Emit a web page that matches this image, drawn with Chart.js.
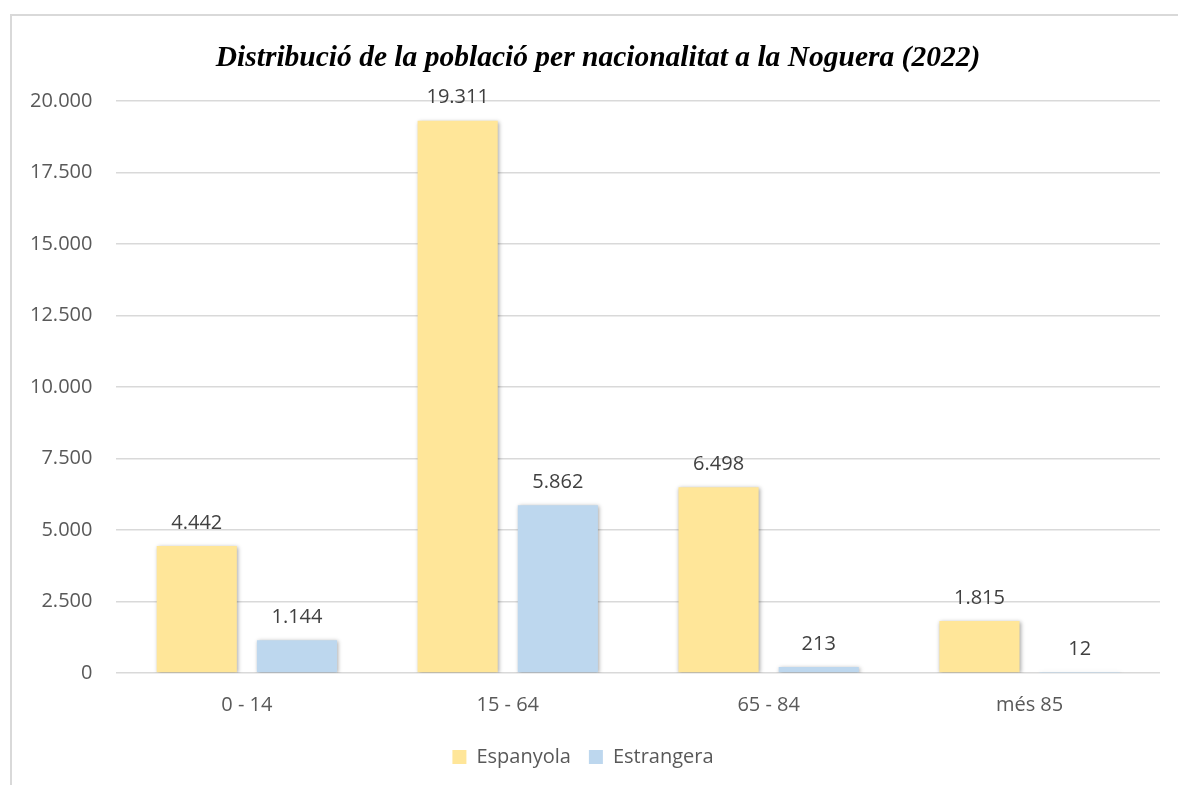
<!DOCTYPE html>
<html>
<head>
<meta charset="utf-8">
<script src="https://cdn.jsdelivr.net/npm/chart.js@4"></script>
<style>
  html, body { margin: 0; padding: 0; background: #fff; }
  #wrap { position: relative; width: 1178px; height: 785px; }
</style>
</head>
<body>
<div id="wrap"><canvas id="chart" width="1178" height="785"></canvas></div>
<script>
const categories = ['0 - 14', '15 - 64', '65 - 84', 'més 85'];
const espanyola = [4442, 19311, 6498, 1815];
const estrangera = [1144, 5862, 213, 12];
const seriesNames = ['Espanyola', 'Estrangera'];
const titleText = 'Distribució de la població per nacionalitat a la Noguera (2022)';

function fmt(v) {
    return String(v).replace(/\B(?=(\d{3})+(?!\d))/g, '.');
}

// outer frame like the spreadsheet chart border, plus the title (centred a bit right of the canvas middle)
const framePlugin = {
    id: 'frame',
    beforeDraw(chart) {
        const ctx = chart.ctx;
        ctx.save();
        ctx.strokeStyle = '#d9d9d9';
        ctx.lineWidth = 2;
        ctx.beginPath();
        ctx.moveTo(11, 785);
        ctx.lineTo(11, 15);
        ctx.lineTo(1178, 15);
        ctx.stroke();
        ctx.restore();
    },
    afterDraw(chart) {
        const ctx = chart.ctx;
        ctx.save();
        ctx.font = 'italic bold 29.5px "Liberation Serif", serif';
        ctx.fillStyle = '#000';
        ctx.textAlign = 'center';
        ctx.textBaseline = 'middle';
        ctx.fillText(titleText, 598, 58);
        ctx.restore();
    }
};

// soft shadow behind the bars
const shadowPlugin = {
    id: 'barShadow',
    beforeDatasetDraw(chart) {
        const ctx = chart.ctx;
        ctx.save();
        ctx.shadowColor = 'rgba(0,0,0,0.35)';
        ctx.shadowBlur = 4;
        ctx.shadowOffsetX = 1;
        ctx.shadowOffsetY = 1;
    },
    afterDatasetDraw(chart) {
        chart.ctx.restore();
    }
};

// value labels above each bar
const labelPlugin = {
    id: 'valueLabels',
    afterDatasetsDraw(chart) {
        const ctx = chart.ctx;
        ctx.save();
        ctx.font = '20px "Open Sans", sans-serif';
        ctx.fillStyle = '#404040';
        ctx.textAlign = 'center';
        ctx.textBaseline = 'bottom';
        chart.data.datasets.forEach((ds, i) => {
            chart.getDatasetMeta(i).data.forEach((bar, j) => {
                ctx.fillText(fmt(ds.data[j]), bar.x, bar.y - 13);
            });
        });
        ctx.restore();
    }
};

new Chart(document.getElementById('chart'), {
    type: 'bar',
    data: {
        labels: categories,
        datasets: [
            {label: seriesNames[0], data: espanyola, backgroundColor: '#FFE699'},
            {label: seriesNames[1], data: estrangera, backgroundColor: '#BDD7EE'}
        ]
    },
    options: {
        responsive: false,
        animation: false,
        categoryPercentage: 0.768,
        barPercentage: 0.8,
        layout: {padding: {left: 6, right: 18, top: 101, bottom: 8}},
        scales: {
            x: {
                grid: {display: false},
                border: {display: false},
                ticks: {color: '#595959', font: {family: '"Open Sans", sans-serif', size: 20}, padding: 12}
            },
            y: {
                min: 0,
                max: 20000,
                grid: {color: '#d9d9d9', lineWidth: 1.5, drawTicks: false},
                border: {display: false},
                ticks: {
                    stepSize: 2500,
                    color: '#595959',
                    font: {family: '"Open Sans", sans-serif', size: 20},
                    padding: 24,
                    callback: v => fmt(v)
                }
            }
        },
        plugins: {
            title: {display: false},
            legend: {
                position: 'bottom',
                labels: {
                    boxWidth: 14,
                    boxHeight: 14,
                    color: '#595959',
                    font: {family: '"Open Sans", sans-serif', size: 20},
                    padding: 18
                }
            },
            tooltip: {enabled: false}
        }
    },
    plugins: [framePlugin, shadowPlugin, labelPlugin]
});
</script>
</body>
</html>
